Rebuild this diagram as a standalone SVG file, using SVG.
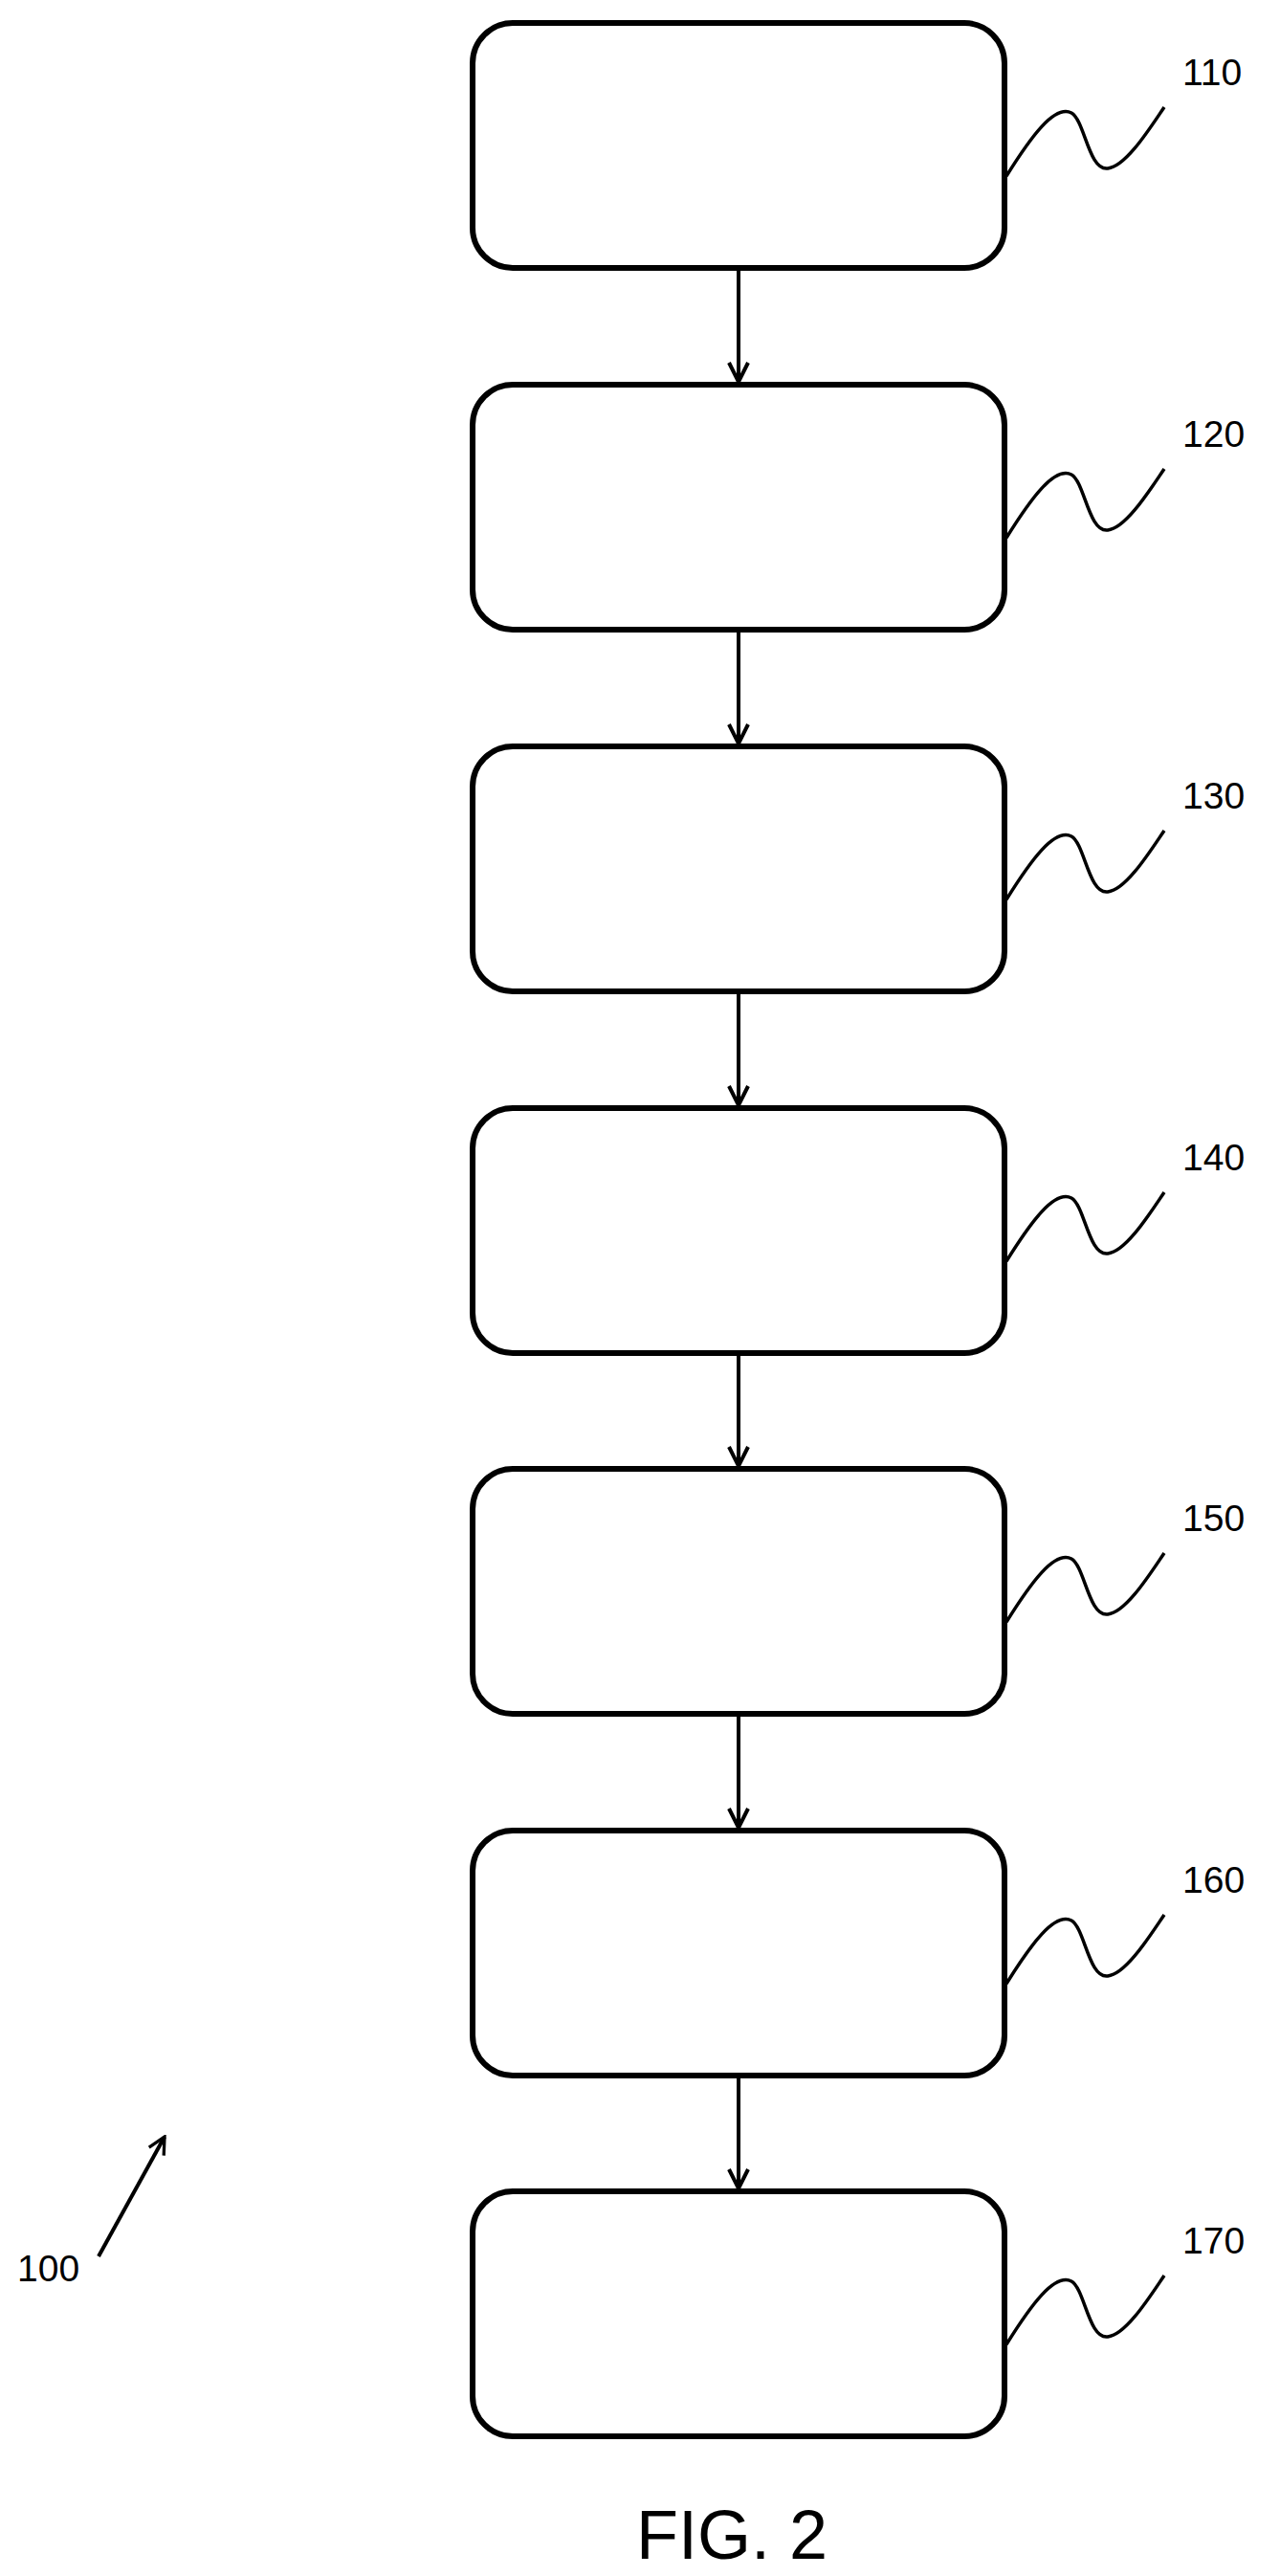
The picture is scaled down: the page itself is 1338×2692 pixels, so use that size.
<svg xmlns="http://www.w3.org/2000/svg" width="1338" height="2692" viewBox="0 0 1338 2692">
<style>
.box{fill:#fff;stroke:#000;stroke-width:6}
.sq{fill:none;stroke:#000;stroke-width:3.5}
.ln{fill:none;stroke:#000;stroke-width:4}
text{font-family:"Liberation Sans",Arial,sans-serif;fill:#000}
.lb{font-size:39px}
</style>
<defs>
<marker id="ah" viewBox="0 0 24 24" refX="22" refY="12" markerWidth="24" markerHeight="24" markerUnits="userSpaceOnUse" orient="auto">
<path d="M2,2 L22,12 L2,22" fill="none" stroke="#000" stroke-width="4"/>
</marker>
<marker id="ah2" viewBox="0 0 20 20" refX="18" refY="10" markerWidth="22" markerHeight="22" markerUnits="userSpaceOnUse" orient="auto">
<path d="M2,2 L18,10 L2,18" fill="none" stroke="#000" stroke-width="3"/>
</marker>
<path id="sqg" d="M0,0 C25,-40 50,-75 68,-66 C82,-58 86,-5 106,-8 C125,-10 150,-50 165,-72"/>
</defs>
<g id="connectors">
<line class="ln" x1="772" y1="280" x2="772" y2="399" marker-end="url(#ah)"/>
<line class="ln" x1="772" y1="658" x2="772" y2="777" marker-end="url(#ah)"/>
<line class="ln" x1="772" y1="1036" x2="772" y2="1155" marker-end="url(#ah)"/>
<line class="ln" x1="772" y1="1414" x2="772" y2="1532" marker-end="url(#ah)"/>
<line class="ln" x1="772" y1="1791" x2="772" y2="1910" marker-end="url(#ah)"/>
<line class="ln" x1="772" y1="2169" x2="772" y2="2287" marker-end="url(#ah)"/>
<line class="ln" x1="103" y1="2358" x2="172" y2="2233" stroke-width="3" marker-end="url(#ah2)"/>
</g>
<g id="n110"><rect class="box" x="494" y="24" width="556" height="256" rx="42"/><use href="#sqg" class="sq" x="1052" y="184"/><text class="lb" x="1236" y="89">110</text></g>
<g id="n120"><rect class="box" x="494" y="402" width="556" height="256" rx="42"/><use href="#sqg" class="sq" x="1052" y="562"/><text class="lb" x="1236" y="467">120</text></g>
<g id="n130"><rect class="box" x="494" y="780" width="556" height="256" rx="42"/><use href="#sqg" class="sq" x="1052" y="940"/><text class="lb" x="1236" y="845">130</text></g>
<g id="n140"><rect class="box" x="494" y="1158" width="556" height="256" rx="42"/><use href="#sqg" class="sq" x="1052" y="1318"/><text class="lb" x="1236" y="1223">140</text></g>
<g id="n150"><rect class="box" x="494" y="1535" width="556" height="256" rx="42"/><use href="#sqg" class="sq" x="1052" y="1695"/><text class="lb" x="1236" y="1600">150</text></g>
<g id="n160"><rect class="box" x="494" y="1913" width="556" height="256" rx="42"/><use href="#sqg" class="sq" x="1052" y="2073"/><text class="lb" x="1236" y="1978">160</text></g>
<g id="n170"><rect class="box" x="494" y="2290" width="556" height="256" rx="42"/><use href="#sqg" class="sq" x="1052" y="2450"/><text class="lb" x="1236" y="2355">170</text></g>
<text class="lb" x="18" y="2384">100</text>
<text x="765" y="2674" font-size="72" text-anchor="middle">FIG. 2</text>
</svg>
